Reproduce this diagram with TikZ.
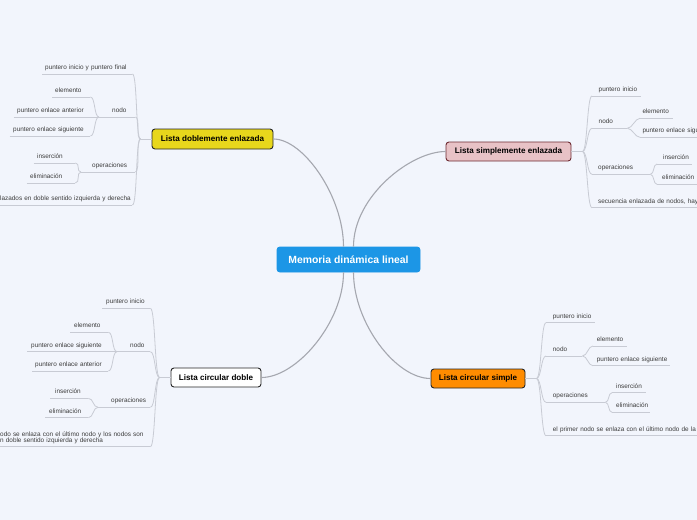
\documentclass[tikz,border=0pt]{standalone}
\usepackage{fontspec}
\setmainfont{Liberation Sans}
\usetikzlibrary{calc}
\definecolor{bg}{HTML}{F2F5FC}
\definecolor{mainln}{HTML}{A5A7AF}
\definecolor{brln}{HTML}{C8CBD4}
\definecolor{subtx}{HTML}{3C3C3C}
\definecolor{memblue}{HTML}{1C96E6}
\definecolor{dblyel}{HTML}{E8D71C}
\definecolor{simpink}{HTML}{E8C2C6}
\definecolor{simbrd}{HTML}{6E2B32}
\definecolor{csiorg}{HTML}{FF8C00}
\newcommand\stx[2]{\hspace*{#1pt}\mbox{#2}}
\begin{document}
\begin{tikzpicture}[x=1pt,y=-1pt,
  mainline/.style={draw=mainln,line width=1.1pt},
  brline/.style={draw=brln,line width=0.8pt},
  topic/.style={rounded corners=3pt,line width=0.9pt,inner sep=0pt,
    font=\fontsize{8.1}{9}\selectfont\bfseries},
  sub/.style={anchor=south west,inner xsep=0pt,inner ysep=4.3pt,text depth=0pt,
    align=left,font=\fontsize{6.4}{6}\selectfont,text=subtx,
    append after command={(\tikzlastnode.south west) edge[brline] (\tikzlastnode.south east)}}]
\path[use as bounding box,fill=bg] (0,0) rectangle (697,520);

% main topics
\node[topic,fill=memblue,draw=memblue,text=white,minimum width=143pt,minimum height=25pt,
  font=\fontsize{10.4}{12}\selectfont\bfseries] (mem) at (348.5,259.5) {Memoria dinámica lineal};
\node[topic,fill=dblyel,draw=black!85,minimum width=121pt,minimum height=20pt] (dbl) at (212.5,139) {Lista doblemente enlazada};
\node[topic,fill=simpink,draw=simbrd,minimum width=125pt,minimum height=19pt] (sim) at (508.5,151.5) {Lista simplemente enlazada};
\node[topic,fill=white,draw=black!85,minimum width=90pt,minimum height=19pt] (cdb) at (216,377.5) {Lista circular doble};
\node[topic,fill=csiorg,draw=black!85,minimum width=94pt,minimum height=19pt] (csi) at (478,378.5) {Lista circular simple};

\draw[mainline] ($(mem.north)+(-5,0)$) .. controls +(0,-50) and +(30,0) .. (dbl.east);
\draw[mainline] ($(mem.north)+(5,0)$) .. controls +(0,-50) and +(-35,0) .. (sim.west);
\draw[mainline] ($(mem.south)+(-5,0)$) .. controls +(0,50) and +(35,0) .. (cdb.east);
\draw[mainline] ($(mem.south)+(5,0)$) .. controls +(0,50) and +(-35,0) .. (csi.west);

% ---- Lista doblemente enlazada
\node[sub,text width=90pt] (a1) at (42,74) {\stx{3}{puntero inicio y puntero final}};
\node[sub,text width=26.5pt] (a2) at (108.5,117) {\stx{3.5}{nodo}};
\node[sub,text width=38pt] (a2a) at (52,97) {\stx{3}{elemento}};
\node[sub,text width=76.5pt] (a2b) at (13.5,117) {\stx{3.5}{puntero enlace anterior}};
\node[sub,text width=80.5pt] (a2c) at (9.5,136) {\stx{3.5}{puntero enlace siguiente}};
\node[sub,text width=46.5pt] (a3) at (88.5,172) {\stx{3.5}{operaciones}};
\node[sub,text width=41.5pt] (a3a) at (33.5,163) {\stx{3.5}{inserción}};
\node[sub,text width=48.5pt] (a3b) at (26.5,183) {\stx{3.5}{eliminación}};
\node[sub,text width=135.5pt] (a4) at (-3.5,205) {\stx{3.5}{lazados en doble sentido izquierda y derecha}};

\coordinate (jd) at ($(dbl.west)+(-11,0)$);
\draw[brline] (dbl.west) -- (jd);
\foreach \c in {a1,a2,a3,a4}
  \draw[brline] (jd) .. controls +(-5,0) and +(5,0) .. (\c.south east);
\coordinate (ja2) at ($(a2.south west)+(-9.5,0)$);
\draw[brline] (a2.south west) -- (ja2);
\foreach \c in {a2a,a2b,a2c}
  \draw[brline] (ja2) .. controls +(-5,0) and +(5,0) .. (\c.south east);
\coordinate (ja3) at ($(a3.south west)+(-7.5,0)$);
\draw[brline] (a3.south west) -- (ja3);
\foreach \c in {a3a,a3b}
  \draw[brline] (ja3) .. controls +(-5,0) and +(5,0) .. (\c.south east);

% ---- Lista simplemente enlazada
\node[sub,text width=49pt] (b1) at (592,96) {\stx{6.5}{puntero inicio}};
\node[sub,text width=25pt] (b2) at (592,128.3) {\stx{6.5}{nodo}};
\node[sub,text width=33pt] (b2a) at (640,118.3) {\stx{2.3}{elemento}};
\node[sub,text width=60pt] (b2b) at (640,137.3) {\stx{2.3}{puntero enlace sigu}};
\node[sub,text width=48pt] (b3) at (592,174.3) {\stx{6}{operaciones}};
\node[sub,text width=35pt] (b3a) at (657,164) {\stx{6}{inserción}};
\node[sub,text width=43pt] (b3b) at (657,184.3) {\stx{5}{eliminación}};
\node[sub,text width=108pt] (b4) at (592,207.7) {\stx{6}{secuencia enlazada de nodos, hay u}};

\coordinate (js) at ($(sim.east)+(11,0)$);
\draw[brline] (sim.east) -- (js);
\foreach \c in {b1,b2,b3,b4}
  \draw[brline] (js) .. controls +(5,0) and +(-5,0) .. (\c.south west);
\coordinate (jb2) at ($(b2.south east)+(10,0)$);
\draw[brline] (b2.south east) -- (jb2);
\foreach \c in {b2a,b2b}
  \draw[brline] (jb2) .. controls +(5,0) and +(-5,0) .. (\c.south west);
\coordinate (jb3) at ($(b3.south east)+(10,0)$);
\draw[brline] (b3.south east) -- (jb3);
\foreach \c in {b3a,b3b}
  \draw[brline] (jb3) .. controls +(4,0) and +(-4,0) .. (\c.south west);

% ---- Lista circular doble
\node[sub,text width=48pt] (c1) at (102,308.3) {\stx{4}{puntero inicio}};
\node[sub,text width=24pt] (c2) at (126,351.7) {\stx{4}{nodo}};
\node[sub,text width=38pt] (c2a) at (70,332.3) {\stx{4}{elemento}};
\node[sub,text width=81pt] (c2b) at (27,351.7) {\stx{4}{puntero enlace siguiente}};
\node[sub,text width=76pt] (c2c) at (32,371) {\stx{3}{puntero enlace anterior}};
\node[sub,text width=43pt] (c3) at (107,407.3) {\stx{4}{operaciones}};
\node[sub,text width=38pt] (c3a) at (50,398.3) {\stx{5}{inserción}};
\node[sub,text width=43pt] (c3b) at (45,417.7) {\stx{4}{eliminación}};
\node[sub,text width=154pt,text depth=6pt] (c4) at (-4,446.7) {\stx{4}{odo se enlaza con el último nodo y los nodos son}\\\stx{4}{n doble sentido izquierda y derecha}};

\coordinate (jc) at ($(cdb.west)+(-11,0)$);
\draw[brline] (cdb.west) -- (jc);
\foreach \c in {c1,c2,c3,c4}
  \draw[brline] (jc) .. controls +(-5,0) and +(5,0) .. (\c.south east);
\coordinate (jc2) at ($(c2.south west)+(-9,0)$);
\draw[brline] (c2.south west) -- (jc2);
\foreach \c in {c2a,c2b,c2c}
  \draw[brline] (jc2) .. controls +(-5,0) and +(5,0) .. (\c.south east);
\coordinate (jc3) at ($(c3.south west)+(-9,0)$);
\draw[brline] (c3.south west) -- (jc3);
\foreach \c in {c3a,c3b}
  \draw[brline] (jc3) .. controls +(-5,0) and +(5,0) .. (\c.south east);

% ---- Lista circular simple
\node[sub,text width=49pt] (d1) at (546,322.7) {\stx{6.7}{puntero inicio}};
\node[sub,text width=27pt] (d2) at (546,356) {\stx{6.7}{nodo}};
\node[sub,text width=34pt] (d2a) at (593,346) {\stx{3.7}{elemento}};
\node[sub,text width=77pt] (d2b) at (593,365.7) {\stx{3.7}{puntero enlace siguiente}};
\node[sub,text width=50pt] (d3) at (546,402.3) {\stx{6.7}{operaciones}};
\node[sub,text width=34pt] (d3a) at (612,392.7) {\stx{4}{inserción}};
\node[sub,text width=38pt] (d3b) at (612,412.3) {\stx{4}{eliminación}};
\node[sub,text width=154pt] (d4) at (546,435.7) {\stx{6.7}{el primer nodo se enlaza con el último nodo de la lis}};

\coordinate (jcs) at ($(csi.east)+(11,0)$);
\draw[brline] (csi.east) -- (jcs);
\foreach \c in {d1,d2,d3,d4}
  \draw[brline] (jcs) .. controls +(5,0) and +(-5,0) .. (\c.south west);
\coordinate (jd2) at ($(d2.south east)+(9,0)$);
\draw[brline] (d2.south east) -- (jd2);
\foreach \c in {d2a,d2b}
  \draw[brline] (jd2) .. controls +(5,0) and +(-5,0) .. (\c.south west);
\coordinate (jd3) at ($(d3.south east)+(9,0)$);
\draw[brline] (d3.south east) -- (jd3);
\foreach \c in {d3a,d3b}
  \draw[brline] (jd3) .. controls +(4,0) and +(-4,0) .. (\c.south west);
\end{tikzpicture}
\end{document}
